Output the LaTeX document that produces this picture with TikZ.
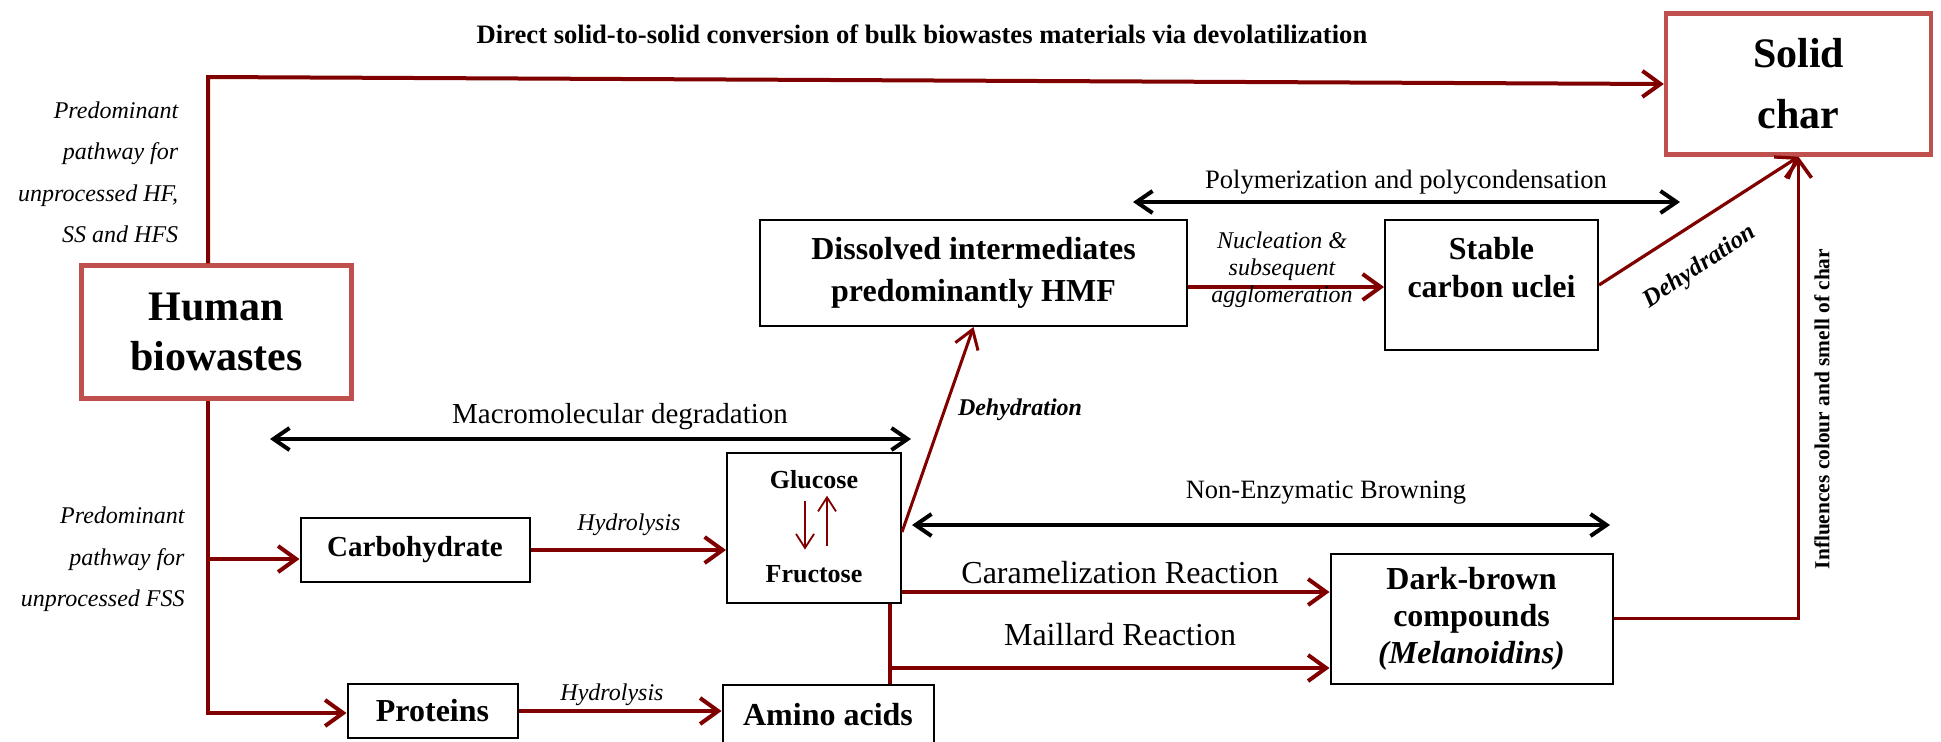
\documentclass[tikz,border=0pt]{standalone}
\usepackage{fontspec}
\setmainfont{Liberation Serif}
\usepackage{tikz}
\usetikzlibrary{arrows.meta, positioning}
\usepackage{xcolor}
\definecolor{pathred}{RGB}{128,0,0}
\definecolor{rosered}{RGB}{192,80,77}

\begin{document}
\begin{tikzpicture}[x=0.5pt, y=-0.5pt,
  box/.style={draw, line width=1pt, align=center, inner sep=0pt},
  keybox/.style={draw=rosered, line width=2.2pt, align=center, inner sep=0pt, font=\fontsize{21}{25}\selectfont\bfseries},
  redline/.style={pathred, line width=2pt},
  redarr/.style={redline, -{Straight Barb[length=9pt, width=13pt]}},
  duo/.style={line width=2pt, {Straight Barb[length=8pt, width=11pt]}-{Straight Barb[length=8pt, width=11pt]}},
  small/.style={pathred, line width=0.9pt, -{Straight Barb[length=7pt, width=9pt]}},
  note/.style={font=\fontsize{12}{13.5}\selectfont\itshape, align=center}]
  \useasboundingbox (0,0) rectangle (1941,741);

  % Main boxes
  \node[keybox, minimum width=135pt, minimum height=66.5pt] (hb) at (216.5,332) {Human\\biowastes};
  \node[keybox, minimum width=132.5pt, minimum height=70.5pt, font=\fontsize{21}{30.5}\selectfont\bfseries] (sc) at (1798.5,84) {Solid\\char};
  \node[box, minimum width=213.5pt, minimum height=53pt, font=\fontsize{16}{21}\selectfont\bfseries] (hmf) at (973.5,273) {Dissolved intermediates\\predominantly HMF};
  \node[box, minimum width=106.5pt, minimum height=65pt] (sn) at (1491.5,285) {};
  \node[font=\fontsize{16}{19}\selectfont\bfseries, align=center] (sntxt) at (1491.5,268) {Stable\\carbon uclei};
  \node[box, minimum width=114.5pt, minimum height=32pt, font=\fontsize{14.5}{17}\selectfont\bfseries] (cb) at (415,550) {Carbohydrate};
  \node[box, minimum width=85pt, minimum height=27pt, font=\fontsize{16}{19}\selectfont\bfseries] (pr) at (432.5,711) {Proteins};
  \node[box, minimum width=87pt, minimum height=75pt] (gf) at (814,528) {};
  \node[box, minimum width=105.5pt, minimum height=30pt, font=\fontsize{16}{19}\selectfont\bfseries] (aa) at (828,715) {Amino acids};
  \node[box, minimum width=141pt, minimum height=65pt, font=\fontsize{16}{18.5}\selectfont\bfseries] (db) at (1471.5,618.5) {Dark-brown\\compounds\\\textit{(Melanoidins)}};

  % Glucose and fructose
  \node[anchor=base, inner sep=0pt, font=\fontsize{13}{15}\selectfont\bfseries] (glc) at (814,488) {Glucose};
  \node[anchor=base, inner sep=0pt, font=\fontsize{13}{15}\selectfont\bfseries] (frc) at (814,582) {Fructose};
  \draw[small] ([shift={(-9,12)}]glc.south) -- ([shift={(-9,-15)}]frc.north);
  \draw[small] ([shift={(13,-19)}]frc.north) -- ([shift={(13,7)}]glc.south);

  % Side notes
  \node[anchor=east, inner sep=0pt, align=right, font=\fontsize{12}{20.75}\selectfont\itshape] (hfnote) at (178.6,172.5) {Predominant\\pathway for\\unprocessed HF,\\SS and HFS};
  \node[anchor=east, inner sep=0pt, align=right, font=\fontsize{12}{20.85}\selectfont\itshape] (fssnote) at (185,559.5) {Predominant\\pathway for\\unprocessed FSS};
  \node[anchor=base, font=\fontsize{13.3}{15}\selectfont\bfseries] (title) at (922,43) {Direct solid-to-solid conversion of bulk biowastes materials via devolatilization};

  % Direct route
  \coordinate (tl) at (208,77);
  \draw[redarr] (hb.north -| tl) -- (tl) -- (sc.west);

  % Feedstock branches
  \coordinate (bl) at (208,713);
  \coordinate (cj) at (208,559);
  \draw[redarr] (hb.south -| bl) -- (bl) -- (bl -| pr.west);
  \draw[redarr] (cj) -- (cj -| cb.west);

  % Hydrolysis
  \draw[redarr] (cb.east) -- (cb.east -| gf.west);
  \node[anchor=base, note] (hyd1) at (629,530) {Hydrolysis};
  \draw[redarr] (pr.east) -- (pr.east -| aa.west);
  \node[anchor=base, note] (hyd2) at (612,700) {Hydrolysis};

  % Dehydration to HMF
  \draw[pathred, line width=1.5pt, -{Straight Barb[length=9pt, width=12pt]}] ([shift={(0,4)}]gf.east) -- (hmf.south);
  \node[anchor=base, font=\fontsize{12}{14}\selectfont\bfseries\itshape] (dh1) at (1020,415) {Dehydration};

  % Nucleation
  \coordinate (nu) at ([shift={(0,14)}]hmf.east);
  \draw[redarr] (nu) -- (nu -| sn.west);
  \node[note] (nucl) at (1282,270) {Nucleation \&\\subsequent\\agglomeration};

  % Stable nuclei to char
  \draw[redarr, line width=1.6pt] (sn.east) -- (sc.south);
  \node[rotate=34, font=\fontsize{12.5}{14}\selectfont\bfseries\itshape] (dh2) at (1700,267) {Dehydration};

  % Browning routes
  \coordinate (ca) at ([shift={(0,64)}]gf.east);
  \draw[redarr] (ca) -- (ca -| db.west);
  \node[anchor=base, font=\fontsize{16}{18}\selectfont] (caram) at (1120,583) {Caramelization Reaction};
  \coordinate (mj) at (890,668);
  \draw[redline] (gf.south -| mj) -- (aa.north -| mj);
  \draw[redarr] (mj) -- (mj -| db.west);
  \node[anchor=base, font=\fontsize{16}{18}\selectfont] (maill) at (1120,645) {Maillard Reaction};

  % Melanoidins to char
  \draw[redarr, line width=1.8pt] (db.east) -| (sc.south);
  \node[rotate=90, font=\fontsize{10.7}{12}\selectfont\bfseries] (infl) at (1822,409) {Influences colour and smell of char};

  % Process spans
  \coordinate (m1) at (270,439);
  \coordinate (m2) at (911,439);
  \draw[duo] (m1) -- (m2);
  \node[anchor=base, font=\fontsize{14.5}{16}\selectfont] (macro) at (620,423) {Macromolecular degradation};
  \coordinate (p1) at (1133,202);
  \coordinate (p2) at (1680,202);
  \draw[duo] (p1) -- (p2);
  \node[anchor=base, font=\fontsize{13.3}{15}\selectfont] (poly) at (1406,188) {Polymerization and polycondensation};
  \coordinate (n1) at (912,525);
  \coordinate (n2) at (1610,525);
  \draw[duo] (n1) -- (n2);
  \node[anchor=base, font=\fontsize{13.25}{15}\selectfont] (nonenz) at (1326,498) {Non-Enzymatic Browning};
\end{tikzpicture}
\end{document}
